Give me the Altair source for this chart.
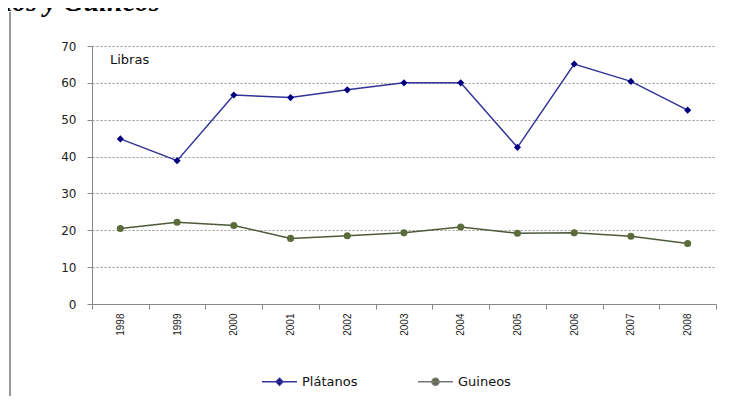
import altair as alt
import pandas as pd

years = ["1998", "1999", "2000", "2001", "2002", "2003", "2004", "2005", "2006", "2007", "2008"]
platanos = [44.8, 38.9, 56.7, 56.0, 58.1, 60.0, 60.0, 42.5, 65.1, 60.4, 52.6]
guineos = [20.5, 22.2, 21.3, 17.8, 18.5, 19.3, 20.9, 19.2, 19.3, 18.4, 16.4]
series = ["Plátanos", "Guineos"]
title_text = "Plátanos y Guineos"
unit_text = "Libras"

rows = []
for y, p, g in zip(years, platanos, guineos):
    rows.append({"year": y, "serie": series[0], "valor": p})
    rows.append({"year": y, "serie": series[1], "valor": g})
df = pd.DataFrame(rows)

FONT = "DejaVu Sans"

diamond_path = "M-1,0L1,0M0,-0.2L0.2,0L0,0.2L-0.2,0Z"
circle_path = "M-1,0L1,0M-0.2,0A0.2,0.2,0,1,0,0.2,0A0.2,0.2,0,1,0,-0.2,0Z"

x_enc = alt.X(
    "year:O",
    bandPosition=0.5,
    scale=alt.Scale(type="band", paddingInner=0, paddingOuter=0),
    axis=alt.Axis(
        title=None,
        tickBand="extent",
        labelAngle=270,
        labelFont="Liberation Sans",
        labelFontSize=10,
        labelColor="#222222",
        labelPadding=4,
        domainColor="#888888",
        tickColor="#888888",
        tickSize=5,
        grid=False,
    ),
)
y_enc = alt.Y(
    "valor:Q",
    scale=alt.Scale(domain=[0, 70], nice=False),
    axis=alt.Axis(
        title=None,
        values=[0, 10, 20, 30, 40, 50, 60, 70],
        labelFont=FONT,
        labelFontSize=12,
        labelColor="#222222",
        labelPadding=11,
        domainColor="#888888",
        tickColor="#888888",
        tickSize=5,
        grid=True,
        gridColor="#999999",
        gridDash=[2, 2],
        gridWidth=1,
    ),
)

legend = alt.Legend(
    orient="none",
    legendX=169,
    legendY=317,
    direction="horizontal",
    title=None,
    symbolSize=1225,
    symbolStrokeWidth=1.5,
    labelFont=FONT,
    labelFontSize=13,
    labelColor="#111111",
    labelOffset=4,
    columnPadding=57,
)

lines = alt.Chart(df).mark_line(strokeWidth=1.5).encode(
    x=x_enc,
    y=y_enc,
    color=alt.Color("serie:N", scale=alt.Scale(domain=series, range=["#333399", "#4d5a3a"]), legend=None),
    detail="serie:N",
)

points = alt.Chart(df).mark_point(filled=True, opacity=1, size=50).encode(
    x=x_enc,
    y=y_enc,
    fill=alt.Fill("serie:N", scale=alt.Scale(domain=series, range=["#000080", "#5b6b3a"]), legend=None),
    shape=alt.Shape("serie:N", scale=alt.Scale(domain=series, range=["diamond", "circle"]), legend=None),
)

legend_layer = alt.Chart(df).transform_filter("datum.valor < 0").mark_point(
    filled=True, opacity=1, strokeWidth=1.5
).encode(
    x=x_enc,
    y=y_enc,
    fill=alt.Fill("serie:N", scale=alt.Scale(domain=series, range=["#000080", "#5b6b3a"]), legend=legend),
    stroke=alt.Stroke("serie:N", scale=alt.Scale(domain=series, range=["#333399", "#777777"]), legend=legend),
    shape=alt.Shape("serie:N", scale=alt.Scale(domain=series, range=[diamond_path, circle_path]), legend=legend),
)

title = alt.Chart(pd.DataFrame({"t": [title_text]})).mark_text(
    align="right", baseline="alphabetic", font="Liberation Serif", fontStyle="italic",
    fontWeight="bold", fontSize=28, color="#000000"
).encode(text="t:N", x=alt.value(68), y=alt.value(-35))

unit = alt.Chart(pd.DataFrame({"t": [unit_text]})).mark_text(
    align="left", baseline="alphabetic", font=FONT, fontSize=13, color="#111111"
).encode(text="t:N", x=alt.value(18), y=alt.value(18))

frame = alt.Chart(pd.DataFrame({"t": [0]})).mark_rule(color="#333333", strokeWidth=1).encode(
    x=alt.value(-82), y=alt.value(-34), y2=alt.value(360)
)

chart = alt.layer(frame, lines, points, legend_layer, title, unit).resolve_scale(
    shape="independent", fill="independent", stroke="independent"
).properties(
    width=624,
    height=258,
    padding={"left": 84, "top": 38, "right": 22, "bottom": 92},
    autosize=alt.AutoSizeParams(type="none"),
    background="#ffffff",
).configure_view(stroke=None)

chart.save("out.html", embed_options={"renderer": "svg", "actions": False})
